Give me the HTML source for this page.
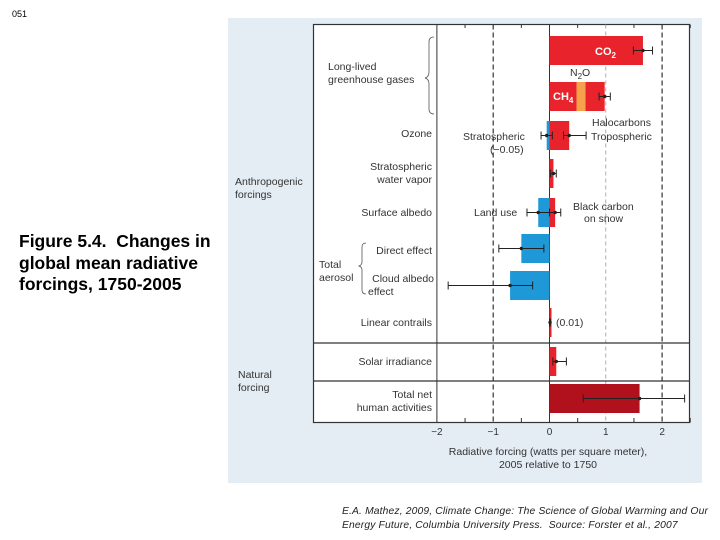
<!DOCTYPE html>
<html><head><meta charset="utf-8"><style>
html,body{margin:0;padding:0;background:#fff;}
body{width:720px;height:540px;position:relative;overflow:hidden;font-family:"Liberation Sans",sans-serif;}
.t{position:absolute;}
</style></head><body>
<div class="t" style="left:12px;top:9px;font-size:9px;">051</div>
<div class="t" style="left:19px;top:231px;font-size:17.5px;font-weight:bold;line-height:21.5px;">Figure 5.4.&nbsp; Changes in<br>global mean radiative<br>forcings, 1750-2005</div>
<div class="t" style="left:342px;top:505px;font-size:10.3px;letter-spacing:0.15px;font-style:italic;line-height:13.5px;color:#222;">E.A. Mathez, 2009, Climate Change: The Science of Global Warming and Our<br>Energy Future, Columbia University Press.&nbsp; Source: Forster et al., 2007</div>
<svg id="chart" width="720" height="540" style="position:absolute;left:0;top:0" font-family="Liberation Sans, sans-serif">
<rect x="228" y="18" width="474" height="465" fill="#e4ecf4"/>
<rect x="313.5" y="24.5" width="376" height="398" fill="#fff" stroke="#333" stroke-width="1.2"/>
<g id="grid"></g><g id="bars"></g><g id="labels" font-size="10.5" fill="#333"></g>
</svg>
<script>
const categories=["CO2","CH4+N2O+Halocarbons","Ozone","Stratospheric water vapor","Surface albedo","Direct effect","Cloud albedo effect","Linear contrails","Solar irradiance","Total net human activities"];
// segments: [row, value, colorKey]
const segRow=[0,1,1,1,2,2,3,4,4,5,6,7,8,9];
const segValue=[1.66,0.48,0.16,0.34,-0.05,0.35,0.07,-0.2,0.1,-0.5,-0.7,0.01,0.12,1.6];
const segColor=["r","r","o","r","b","r","r","b","r","b","b","r","r","d"];
const errRow=[0,1,2,2,3,4,4,5,6,7,8,9];
const errMid=[1.66,0.98,-0.05,0.35,0.07,-0.2,0.1,-0.5,-0.7,0.01,0.12,1.6];
const errLo=[1.49,0.88,-0.15,0.25,0.02,-0.4,0.0,-0.9,-1.8,0.0,0.06,0.6];
const errHi=[1.83,1.08,0.05,0.65,0.12,0.0,0.2,-0.1,-0.3,0.02,0.3,2.4];
const tickValues=[-2,-1,0,1,2];
const tickLabels=["\u22122","\u22121","0","1","2"];
const rowY=[36,82,121,159,198,234,271,308,347,384]; // layout
const rowH=29;
const colors={r:"#e8232b",o:"#f5a04a",b:"#1e98d6",d:"#b0111c"};
const NS="http://www.w3.org/2000/svg";
const x=v=>549.5+v*56.3;
function mk(tag,attrs,parent){const e=document.createElementNS(NS,tag);for(const k in attrs)e.setAttribute(k,attrs[k]);parent.appendChild(e);return e;}
const grid=document.getElementById('grid'),bars=document.getElementById('bars'),lab=document.getElementById('labels');
tickValues.forEach((v,i)=>{
  let style=v===0||v===-2?{stroke:"#333","stroke-width":1}:(v===1?{stroke:"#999","stroke-width":0.8,"stroke-dasharray":"4,3"}:{stroke:"#333","stroke-width":1.2,"stroke-dasharray":"5,3"});
  const l=mk('line',Object.assign({x1:x(v),x2:x(v),y1:24.5,y2:422.5},style),grid);
  
  
  const t=mk('text',{x:x(v),y:435,"text-anchor":"middle","font-size":10,fill:"#333"},grid);
  t.textContent=tickLabels[i];
  
  
});
for(let v=-1.5;v<2.6;v+=1){
  mk('line',{x1:x(v),x2:x(v),y1:24.5,y2:28,stroke:"#333"},grid);
  mk('line',{x1:x(v),x2:x(v),y1:418,y2:422.5,stroke:"#333"},grid);
}
[343,381].forEach(y=>{const l=mk('line',{x1:313.5,x2:689.5,y1:y,y2:y,stroke:"#333","stroke-width":1.2},grid);});
const pos=new Array(categories.length).fill(0),neg=new Array(categories.length).fill(0);
segValue.forEach((v,i)=>{
  const r=segRow[i];let a,b;
  if(v>=0){a=pos[r];b=pos[r]+v;pos[r]=b;}else{b=neg[r];a=neg[r]+v;neg[r]=a;}
  const w=Math.max(2,x(b)-x(a));
  const rc=mk('rect',{x:x(a),y:rowY[r],width:w,height:rowH,fill:colors[segColor[i]]},bars);
  
  
});
errMid.forEach((m,i)=>{
  const y=rowY[errRow[i]]+rowH/2;const g=mk('g',{stroke:"#222","stroke-width":1},bars);
  
  
  mk('line',{x1:x(errLo[i]),x2:x(errHi[i]),y1:y,y2:y},g);
  mk('line',{x1:x(errLo[i]),x2:x(errLo[i]),y1:y-4,y2:y+4},g);
  mk('line',{x1:x(errHi[i]),x2:x(errHi[i]),y1:y-4,y2:y+4},g);
  mk('circle',{cx:x(m),cy:y,r:1.2,fill:"#222"},g);
});
</script>
<svg width="720" height="540" style="position:absolute;left:0;top:0" font-family="Liberation Sans, sans-serif" font-size="10.5" fill="#333">
<g text-anchor="end">
<text x="432" y="137">Ozone</text>
<text x="432" y="170">Stratospheric</text><text x="432" y="183">water vapor</text>
<text x="432" y="216">Surface albedo</text>
<text x="432" y="254">Direct effect</text>
<text x="434" y="282">Cloud albedo</text>
<text x="432" y="326">Linear contrails</text>
<text x="432" y="365">Solar irradiance</text>
<text x="432" y="398">Total net</text><text x="432" y="411">human activities</text>
</g>
<g>
<text x="328" y="70">Long-lived</text><text x="328" y="83">greenhouse gases</text>
<text x="235" y="185">Anthropogenic</text><text x="235" y="198">forcings</text>
<text x="319" y="268">Total</text><text x="319" y="281">aerosol</text>
<text x="368" y="295">effect</text>
<text x="238" y="378">Natural</text><text x="238" y="391">forcing</text>
<path d="M434,37 q-5,0 -5,5 v30 q0,5 -4,6 q4,1 4,6 v25 q0,5 5,5" fill="none" stroke="#555" stroke-width="0.8"/>
<path d="M366,243 q-4,0 -4,4 v15 q0,3 -3,4 q3,1 3,4 v20 q0,4 4,4" fill="none" stroke="#555" stroke-width="0.8"/>
</g>
<g>
<text x="595" y="55" fill="#fff" font-weight="bold" font-size="11">CO<tspan font-size="8" dy="3">2</tspan></text>
<text x="570" y="76">N<tspan font-size="8" dy="3">2</tspan><tspan dy="-3">O</tspan></text>
<text x="553" y="100" fill="#fff" font-weight="bold" font-size="11">CH<tspan font-size="8" dy="3">4</tspan></text>
<text x="592" y="126">Halocarbons</text>
<text x="591" y="140">Tropospheric</text>
<text x="463" y="140">Stratospheric</text>
<text x="490" y="153">(−0.05)</text>
<text x="474" y="216">Land use</text>
<text x="573" y="210">Black carbon</text><text x="584" y="222">on snow</text>
<text x="556" y="326">(0.01)</text>
<text x="548" y="455" text-anchor="middle">Radiative forcing (watts per square meter),</text>
<text x="548" y="468" text-anchor="middle">2005 relative to 1750</text>
</g>
</svg>
</body></html>
